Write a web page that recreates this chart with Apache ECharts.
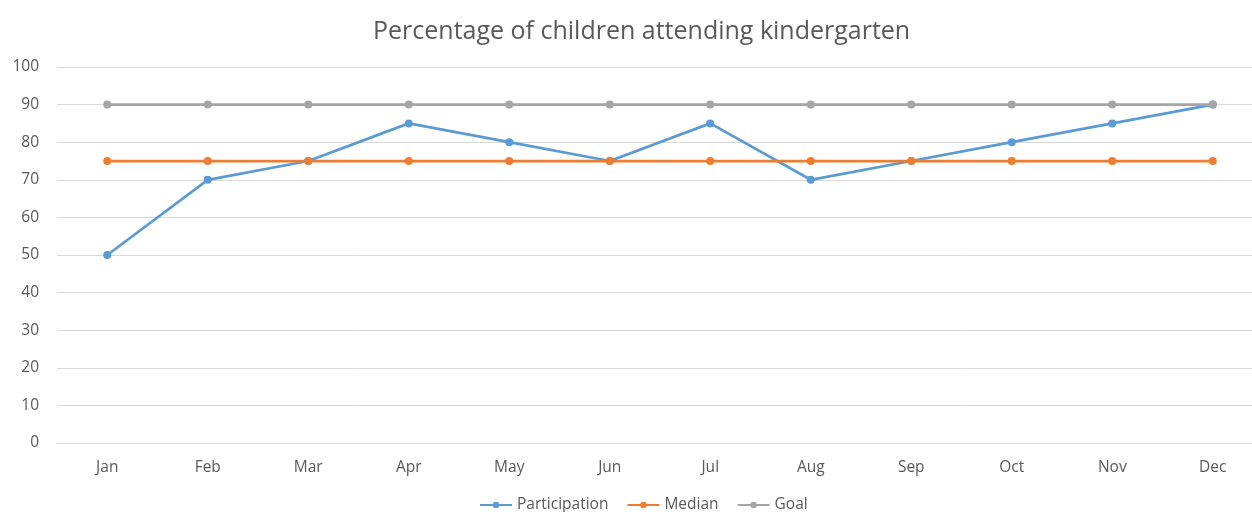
<!DOCTYPE html>
<html><head><meta charset="utf-8">
<script src="https://cdn.jsdelivr.net/npm/echarts@6/dist/echarts.min.js"></script>
<style>html,body{margin:0;padding:0;background:#fff;overflow:hidden;width:1252px;height:512px}#c{width:1263px;height:512px}</style>
</head><body><div id="c"></div>
<script>
const categories = ['Jan','Feb','Mar','Apr','May','Jun','Jul','Aug','Sep','Oct','Nov','Dec'];
const participation = [50,70,75,85,80,75,85,70,75,80,85,90];
const median = [75,75,75,75,75,75,75,75,75,75,75,75];
const goal = [90,90,90,90,90,90,90,90,90,90,90,90];
const yTicks = {min:0, max:100, interval:10};

const chart = echarts.init(document.getElementById('c'));
const font = 'Open Sans';
function s(name, data, color){
  return {name, type:'line', data, color, symbol:'circle', symbolSize:8,
    lineStyle:{width:2.75,color}, itemStyle:{color}, z: 2};
}
chart.setOption({
  animation:false,
  title:{text:'Percentage of children attending kindergarten', left:368, top:14,
    textStyle:{fontFamily:font, fontSize:25, fontWeight:'normal', color:'#595959'}},
  grid:{left:57, right:0, top:67, bottom:69, containLabel:false},
  legend:{top:492, left:474, itemWidth:32, itemHeight:8, itemGap:18,
    textStyle:{fontFamily:font, fontSize:15.5, color:'#595959'},
    data:['Participation','Median','Goal']},
  xAxis:{type:'category', data:categories, boundaryGap:true,
    axisLine:{show:true, lineStyle:{color:'#d9d9d9'}}, axisTick:{show:false},
    axisLabel:{fontFamily:font, fontSize:15.5, color:'#595959', margin:17}},
  yAxis:{type:'value', min:yTicks.min, max:yTicks.max, interval:yTicks.interval,
    axisLine:{show:false}, axisTick:{show:false},
    axisLabel:{fontFamily:font, fontSize:15.5, color:'#595959', margin:18},
    splitLine:{lineStyle:{color:'#d9d9d9'}}},
  series:[s('Participation', participation, '#5B9BD5'), s('Median', median, '#ED7D31'), s('Goal', goal, '#A5A5A5')]
});
</script></body></html>
